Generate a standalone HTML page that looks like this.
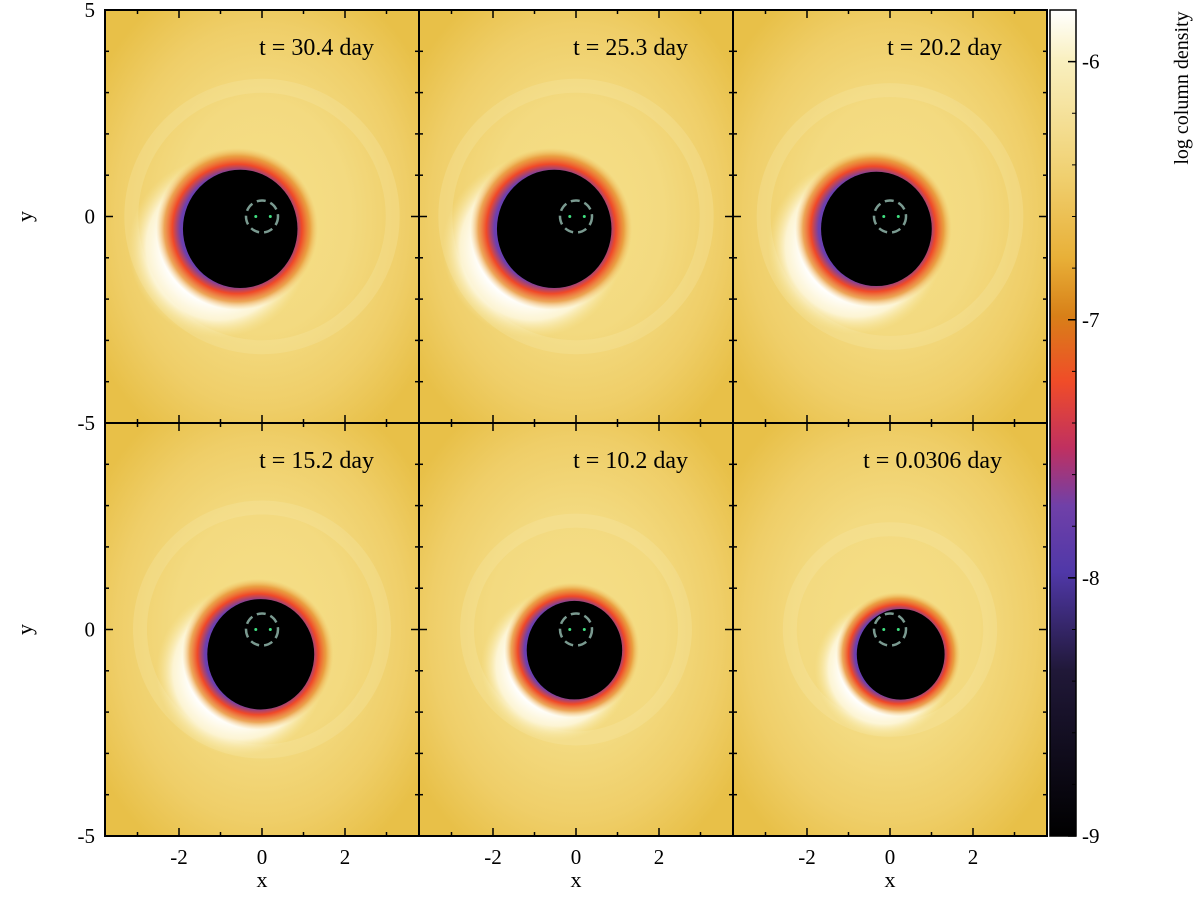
<!DOCTYPE html>
<html><head><meta charset="utf-8"><style>
html,body{margin:0;padding:0;background:#fff;}
svg{display:block;font-family:"Liberation Serif",serif;}
</style></head><body>
<svg id="chart" width="1200" height="900" viewBox="0 0 1200 900" xmlns="http://www.w3.org/2000/svg">
<defs>
<radialGradient id="bgGrad" cx="50%" cy="50%" r="62%">
<stop offset="0" stop-color="#f5df88"/><stop offset="0.45" stop-color="#f3da80"/><stop offset="0.75" stop-color="#efce68"/><stop offset="1" stop-color="#e8c048"/>
</radialGradient>
<radialGradient id="edgeGrad" cx="50%" cy="50%" r="50%">
<stop offset="0.7" stop-color="#6a40b0"/><stop offset="0.8" stop-color="#f04828"/><stop offset="0.9" stop-color="#e89030" stop-opacity="0.8"/><stop offset="1" stop-color="#f0c060" stop-opacity="0"/>
</radialGradient>
<radialGradient id="whiteGrad" cx="50%" cy="50%" r="50%">
<stop offset="0.6" stop-color="#ffffff"/><stop offset="0.8" stop-color="#fffbe8" stop-opacity="0.8"/><stop offset="1" stop-color="#f8e8a0" stop-opacity="0"/>
</radialGradient>
<linearGradient id="cbGrad" x1="0" y1="0" x2="0" y2="1">
<stop offset="0" stop-color="#ffffff"/><stop offset="0.06" stop-color="#f9f0c0"/><stop offset="0.2" stop-color="#f0d070"/><stop offset="0.3" stop-color="#e8b038"/><stop offset="0.37" stop-color="#d88018"/><stop offset="0.45" stop-color="#f04c28"/><stop offset="0.53" stop-color="#c03060"/><stop offset="0.6" stop-color="#7040a8"/><stop offset="0.68" stop-color="#5038a8"/><stop offset="0.8" stop-color="#201838"/><stop offset="1" stop-color="#000000"/>
</linearGradient>
</defs>
<g id="panels"></g>
<g id="cbar"></g>
</svg>
<script>
const times = ["t = 30.4 day","t = 25.3 day","t = 20.2 day","t = 15.2 day","t = 10.2 day","t = 0.0306 day"];
const cavityX = [-0.6,-0.6,-0.4,-0.1,-0.1,0.2];
const cavityY = [-0.3,-0.3,-0.3,-0.6,-0.5,-0.6];
const cavityR = [1.5,1.5,1.45,1.4,1.25,1.15];
const cbTicks = [-6,-7,-8,-9];
const xTicks = [-2,0,2];
const yTicks = [5,0,-5];

const NS="http://www.w3.org/2000/svg";
const svg=document.getElementById('chart');
const P=document.getElementById('panels');
const L=105,T=10,W=314,H=413;
function el(tag,attrs,parent){const e=document.createElementNS(NS,tag);for(const k in attrs)e.setAttribute(k,attrs[k]);parent.appendChild(e);return e;}
for(let i=0;i<6;i++){
  const col=i%3,row=Math.floor(i/3);
  const x0=L+col*W,y0=T+row*H;
  const sx=v=>x0+W/2+v*41.5, sy=v=>y0+H/2-v*41.3;
  const g=el('g',{},P);
  
  
  const cp=el('clipPath',{id:'cp'+i},g);
  el('rect',{x:x0,y:y0,width:W,height:H},cp);
  const c=el('g',{'clip-path':'url(#cp'+i+')'},g);
  el('rect',{x:x0,y:y0,width:W,height:H,fill:'url(#bgGrad)'},c);
  const cx=sx(cavityX[i]),cy=sy(cavityY[i]),r=cavityR[i]*41.5;
  el('circle',{cx:sx(0),cy:sy(0),r:r*2.1,fill:'none',stroke:'#f8ecb0','stroke-width':14,opacity:0.25},c);
  el('circle',{cx:cx-r*0.3,cy:cy+r*0.3,r:r*1.45,fill:'url(#whiteGrad)'},c);
  el('circle',{cx:cx,cy:cy,r:r*1.3,fill:'url(#edgeGrad)'},c);
  const blk=el('ellipse',{cx:cx+r*0.05,cy:cy,rx:r*0.92,ry:r*0.95,fill:'#000'},c);
  
  el('circle',{cx:sx(0),cy:sy(0),r:16,fill:'none',stroke:'#7a9a90','stroke-width':2.5,'stroke-dasharray':'9 5'},c);
  el('circle',{cx:sx(-0.15),cy:sy(0),r:1.5,fill:'#40e080'},c);
  el('circle',{cx:sx(0.2),cy:sy(0),r:1.5,fill:'#40e080'},c);
  el('rect',{x:x0,y:y0,width:W,height:H,fill:'none',stroke:'#000','stroke-width':2},g);
  for(let v=-3;v<=3;v++){const X=sx(v);const len=v%2==0?8:4;
    el('line',{x1:X,y1:y0+H,x2:X,y2:y0+H-len,stroke:'#000','stroke-width':1.5},g);
    el('line',{x1:X,y1:y0,x2:X,y2:y0+len,stroke:'#000','stroke-width':1.5},g);}
  for(let v=-5;v<=5;v++){const Y=sy(v);const len=v%5==0?8:4;
    el('line',{x1:x0,y1:Y,x2:x0+len,y2:Y,stroke:'#000','stroke-width':1.5},g);
    el('line',{x1:x0+W,y1:Y,x2:x0+W-len,y2:Y,stroke:'#000','stroke-width':1.5},g);}
  const t=el('text',{x:x0+W-45,y:y0+45,'font-size':24,'text-anchor':'end'},g);
  t.textContent=times[i];
  
  
  if(row==1){xTicks.forEach(v=>{const tx=el('text',{x:sx(v),y:864,'font-size':21,'text-anchor':'middle'},g);tx.textContent=v;
    });
    const xl=el('text',{x:sx(0),y:887,'font-size':22,'text-anchor':'middle'},g);xl.textContent='x';
    }
  if(col==0){yTicks.forEach(v=>{if(row==1&&v==5)return;const ty=el('text',{x:95,y:sy(v)+7,'font-size':21,'text-anchor':'end'},g);ty.textContent=v;
    });
    const yl=el('text',{x:0,y:0,'font-size':22,'text-anchor':'middle',transform:'translate(32,'+sy(0)+') rotate(-90)'},g);yl.textContent='y';
    }
}
const C=document.getElementById('cbar');


const cy0=10,cy1=836,vTop=-5.8,vBot=-9;
const cv=v=>cy0+(v-vTop)/(vBot-vTop)*(cy1-cy0);
el('rect',{x:1050,y:cy0,width:26,height:cy1-cy0,fill:'url(#cbGrad)',stroke:'#000','stroke-width':1.5},C);
cbTicks.forEach(v=>{const Y=cv(v);
  el('line',{x1:1068,y1:Y,x2:1076,y2:Y,stroke:'#000','stroke-width':1.5},C);
  const t=el('text',{x:1082,y:Y+7,'font-size':21},C);t.textContent=v;
  });
for(let v=-6;v>-9;v-=0.2){const Y=cv(v);el('line',{x1:1072,y1:Y,x2:1076,y2:Y,stroke:'#000','stroke-width':1},C);}
const ct=el('text',{x:0,y:0,'font-size':20,'text-anchor':'middle',transform:'translate(1188,88) rotate(-90)'},C);
ct.textContent='log column density';


</script>
</body></html>
